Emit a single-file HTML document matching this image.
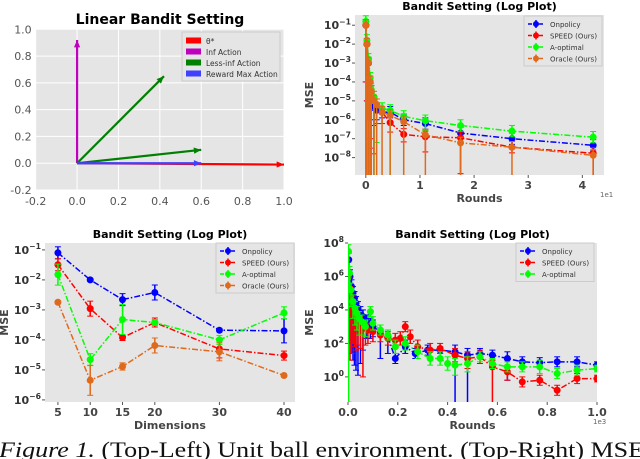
<!DOCTYPE html>
<html><head><meta charset="utf-8">
<style>
html,body{margin:0;padding:0;background:#fff;}
svg{display:block;}
text{font-family:"DejaVu Sans","Liberation Sans",sans-serif;}
text.cap{font-family:"Liberation Serif",serif;}
</style></head>
<body>
<svg id="fig" width="640" height="459" viewBox="0 0 640 459" xmlns="http://www.w3.org/2000/svg"></svg>
<script>
// ===== Data: top-left vectors (linear bandit) =====
const vecNames = ["θ*", "Inf Action", "Less-inf Action", "Reward Max Action"];
const vecColors = ["#ff0000", "#bf00bf", "#008000", "#4040ff"];
const vecX = [1.0, 0.0, 0.42, 0.6];
const vecY = [-0.01, 0.92, 0.65, 0.0];
const vecX2 = [0.6];
const vecY2 = [0.1];

// ===== Data: top-right (rounds, x in 1e1) =====
const trX = [0, 0.02, 0.05, 0.08, 0.1, 0.15, 0.2, 0.3, 0.45, 0.7, 1.1, 1.75, 2.7, 4.2];
const trOn = [-1, -2, -3, -4, -4.5, -5.3, -5.5, -5.6, -5.6, -6, -6.2, -6.7, -7, -7.35];
const trSp = [-1, -2, -3, -4, -4.5, -4.8, -5.2, -5.6, -6.15, -6.77, -6.9, -6.95, -7.45, -7.77];
const trAo = [-0.8, -1.8, -2.8, -3.8, -4.4, -4.8, -5.2, -5.4, -5.5, -5.82, -6.05, -6.3, -6.6, -6.92];
const trOr = [-1, -2, -3, -4, -4.5, -5, -5.2, -5.6, -5.77, -6.1, -6.8, -7.22, -7.45, -7.88];
const trErrOn = [3, 3, 3, 2, 1, 1, 0.5, 0.3, 0.3, 0.3, 0.3, 0.3, 0.3, 0.3];
const trErrSp = [3, 3, 3, 3, 3, 3, 1, 0.6, 0.5, 0.4, 0.8, 1.9, 0.3, 1.2];
const trErrAo = [9, 9, 9, 9, 9, 9, 2, 0.3, 5, 0.3, 0.5, 0.3, 0.3, 0.3];
const trErrOr = [9, 9, 9, 9, 9, 9, 9, 9, 9, 9, 9, 9, 9, 9];
const trTicks = [0, 1, 2, 3, 4];
const trYTicks = [-1, -2, -3, -4, -5, -6, -7, -8];

// ===== Data: bottom-left (dimensions) =====
const blX = [5, 10, 15, 20, 30, 40];
const blOn = [8e-2, 1e-2, 2.2e-3, 3.8e-3, 2.1e-4, 2e-4];
const blSp = [3.2e-2, 1.1e-3, 1.2e-4, 3.8e-4, 5e-5, 3e-5];
const blAo = [1.5e-2, 2.2e-5, 4.8e-4, 3.8e-4, 1e-4, 8e-4];
const blOr = [1.8e-3, 4.5e-6, 1.3e-5, 6.5e-5, 4e-5, 6.5e-6];
const blErrOn = [0.2, 0.05, 0.2, 0.25, 0.05, 0.4];
const blErrSp = [0.2, 0.25, 0.1, 0.15, 0.3, 0.15];
const blErrAo = [0.35, 0.2, 0.5, 0.1, 0.15, 0.2];
const blErrOr = [0.05, 0.5, 0.12, 0.25, 0.3, 0.05];
const blTicks = [5, 10, 15, 20, 30, 40];
const blYTicks = [-1, -2, -3, -4, -5, -6];

// ===== Data: bottom-right (rounds, x in 1e3) =====
const brXOn = [0.003, 0.008, 0.014, 0.02, 0.026, 0.032, 0.04, 0.05, 0.06, 0.075, 0.09, 0.1, 0.13, 0.16, 0.19, 0.23, 0.27, 0.32, 0.37, 0.43, 0.48, 0.53, 0.58, 0.64, 0.7, 0.77, 0.84, 0.92, 1.0];
const brOn = [7, 6, 5.4, 5, 4.7, 4.4, 4.1, 3.8, 3.6, 3.3, 3.1, 3, 2.7, 2.4, 1.1, 1.8, 1.4, 1.6, 1.6, 1.5, 1.3, 1.4, 1.3, 1.1, 0.9, 0.85, 0.9, 0.9, 0.7];
const brErrOn = [4, 4, 4, 4, 4, 4, 4, 3, 2, 1, 0.8, 0.6, 1.6, 1, 0.3, 0.4, 0.3, 0.3, 0.2, 4, 4, 0.3, 0.3, 1.3, 0.3, 0.3, 0.3, 0.3, 0.2];
const brXSp = [0.003, 0.008, 0.014, 0.02, 0.026, 0.032, 0.04, 0.05, 0.06, 0.07, 0.08, 0.1, 0.13, 0.16, 0.19, 0.21, 0.23, 0.25, 0.28, 0.33, 0.37, 0.43, 0.48, 0.53, 0.58, 0.64, 0.7, 0.77, 0.84, 0.92, 1.0];
const brSp = [6, 5, 4.4, 4, 3.8, 3.6, 3.4, 3.2, 3, 2.9, 2.8, 2.7, 2.5, 2.3, 2.2, 2.3, 3, 2.4, 1.8, 1.6, 1.7, 1.3, 1.1, 1.2, 0.6, 0.3, -0.3, -0.2, -0.8, -0.1, -0.1];
const brErrSp = [4, 4, 3, 2, 2, 2, 1.5, 1.5, 3, 1, 0.8, 0.6, 0.4, 0.4, 0.5, 0.4, 0.3, 0.4, 0.4, 0.4, 0.3, 0.4, 0.6, 0.4, 4, 0.5, 0.3, 0.3, 0.3, 0.3, 0.2];
const brXAo = [0.002, 0.006, 0.012, 0.02, 0.028, 0.036, 0.045, 0.055, 0.07, 0.09, 0.1, 0.13, 0.16, 0.19, 0.23, 0.28, 0.33, 0.37, 0.4, 0.43, 0.48, 0.53, 0.58, 0.64, 0.7, 0.77, 0.84, 0.92, 1.0];
const brAo = [7.5, 6.2, 5.2, 4.5, 4.1, 3.8, 3.5, 3.3, 3, 3.9, 3.2, 2.8, 2.5, 1.8, 2, 1.5, 1.1, 1.1, 0.8, 0.7, 0.8, 1.2, 0.8, 0.6, 0.6, 0.6, 0.2, 0.4, 0.5];
const brErrAo = [9, 1, 1, 1, 1, 1, 1, 0.8, 0.6, 0.3, 0.4, 0.3, 0.3, 0.4, 0.4, 0.4, 0.4, 0.4, 0.4, 0.6, 0.5, 0.3, 0.3, 0.3, 0.3, 0.4, 0.3, 0.3, 0.2];
const brTicks = [0, 0.2, 0.4, 0.6, 0.8, 1.0];
const brYTicks = [8, 6, 4, 2, 0];

const C = {on:"#0000ff", sp:"#ff0000", ao:"#00ff00", or:"#e06a1b"};
const svg = document.getElementById("fig");
const NS = "http://www.w3.org/2000/svg";
function el(tag, attrs, parent){const e=document.createElementNS(NS,tag);for(const k in attrs)e.setAttribute(k,attrs[k]);(parent||svg).appendChild(e);return e;}
function txt(s, attrs, parent){const e=el("text",attrs,parent);e.textContent=s;return e;}
function sup(base, exp, x, y, size, g){const t=el("text",{x:x,y:y,"font-size":size,"text-anchor":"end",fill:"#333","font-weight":"bold"},g);const a=document.createElementNS(NS,"tspan");a.textContent=base;t.appendChild(a);const b=document.createElementNS(NS,"tspan");b.setAttribute("dy",-size*0.45);b.setAttribute("font-size",size*0.7);b.textContent=exp;t.appendChild(b);return t;}
function rect(x0,y0,x1,y1,g){return el("rect",{x:x0,y:y0,width:x1-x0,height:y1-y0,fill:"#e5e5e5"},g);}

// ---------- Panel 1: top-left ----------
(function(){
  const g = el("g",{});
  
  
  const L=35.7,R=284,T=29.3,B=190;
  const sx=v=>L+(v+0.2)/1.2*(R-L), sy=v=>B-(v+0.2)/1.2*(B-T);
  rect(L,T,R,B,g);
  [-0.2,0,0.2,0.4,0.6,0.8,1.0].forEach(v=>{
    el("line",{x1:sx(v),x2:sx(v),y1:T,y2:B,stroke:"#fff","stroke-width":1},g);
    el("line",{x1:L,x2:R,y1:sy(v),y2:sy(v),stroke:"#fff","stroke-width":1},g);
    txt(v.toFixed(1),{x:sx(v),y:B+15,"font-size":11,"text-anchor":"middle",fill:"#555"},g);
    txt(v.toFixed(1),{x:L-4,y:sy(v)+4,"font-size":11,"text-anchor":"end",fill:"#555"},g);
  });
  const t=txt("Linear Bandit Setting",{x:160,y:24,"font-size":14,"font-weight":"bold","text-anchor":"middle",fill:"#000"},g);
  
  function arrow(x,y,col,name){
    const x0=sx(0),y0=sy(0),x1=sx(x),y1=sy(y);
    const a=el("line",{x1:x0,y1:y0,x2:x1,y2:y1,stroke:col,"stroke-width":2.2},g);
    
    const ang=Math.atan2(y1-y0,x1-x0),h=8;
    const p=[[x1,y1],[x1-h*Math.cos(ang-0.4),y1-h*Math.sin(ang-0.4)],[x1-h*Math.cos(ang+0.4),y1-h*Math.sin(ang+0.4)]];
    el("polygon",{points:p.map(q=>q.join(",")).join(" "),fill:col},g);
  }
  arrow(vecX[0],vecY[0],vecColors[0],"theta-arrow");
  arrow(vecX[1],vecY[1],vecColors[1],"inf-action-arrow");
  arrow(vecX[2],vecY[2],vecColors[2],"less-inf-arrow");
  arrow(vecX2[0],vecY2[0],vecColors[2],"less-inf-arrow-2");
  arrow(vecX[3],vecY[3],vecColors[3],"reward-max-arrow");
  const lg=el("g",{},g);
  el("rect",{x:182,y:32,width:98,height:49,fill:"#e5e5e5",stroke:"#ccc"},lg);
  vecNames.forEach((n,i)=>{const y=41+i*11;el("rect",{x:186,y:y-3.5,width:15,height:6,fill:vecColors[i]},lg);txt(n,{x:206,y:y+3,"font-size":7.5,fill:"#333"},lg);});
})();

function logPanel(opt){
  const g=el("g",{});
  
  
  const {L,R,T,B}=opt;
  const sx=v=>L+(v-opt.x0)/(opt.x1-opt.x0)*(R-L);
  const sy=v=>B-(v-opt.y0)/(opt.y1-opt.y0)*(B-T);
  rect(L,T,R,B,g);
  opt.xticks.forEach(v=>{el("line",{x1:sx(v),x2:sx(v),y1:B,y2:B+3,stroke:"#555"},g);txt(opt.xfmt(v),{x:sx(v),y:B+14,"font-size":11,"font-weight":"bold","text-anchor":"middle",fill:"#444"},g);});
  opt.yticks.forEach(v=>{el("line",{x1:L-3,x2:L,y1:sy(v),y2:sy(v),stroke:"#555"},g);sup("10",String(v).replace("-","−"),L-4,sy(v)+4,11,g);});
  const tt=txt("Bandit Setting (Log Plot)",{x:(L+R)/2,y:T-5,"font-size":11,"font-weight":"bold","text-anchor":"middle",fill:"#000"},g);
  
  const xl=txt(opt.xlabel,{x:(L+R)/2,y:B+27,"font-size":11,"font-weight":"bold","text-anchor":"middle",fill:"#444"},g);
  
  const yl=txt("MSE",{x:0,y:0,"font-size":11,"font-weight":"bold","text-anchor":"middle",fill:"#444",transform:`translate(${opt.ylx},${(T+B)/2}) rotate(-90)`},g);
  
  if(opt.mult) txt(opt.mult,{x:R-4,y:B+22,"font-size":7,fill:"#666"},g);
  const clip=el("clipPath",{id:opt.name+"-clip"},g);el("rect",{x:L,y:T,width:R-L,height:B-T},clip);
  const pg=el("g",{"clip-path":`url(#${opt.name}-clip)`},g);
  opt.series.forEach(s=>{
    const sg=el("g",{},pg);
    
    
    s.xs.forEach((x,i)=>{const y=s.ys[i],e=s.err[i],eu=Math.min(e,opt.upCap);
      const eb=el("line",{x1:sx(x),x2:sx(x),y1:sy(y+eu),y2:sy(y-e),stroke:s.c,"stroke-width":1.5},sg);
      
      el("line",{x1:sx(x)-3,x2:sx(x)+3,y1:sy(y+eu),y2:sy(y+eu),stroke:s.c,"stroke-width":1},sg);
      el("line",{x1:sx(x)-3,x2:sx(x)+3,y1:sy(y-e),y2:sy(y-e),stroke:s.c,"stroke-width":1},sg);
    });
    const pts=s.xs.map((x,i)=>sx(x)+","+sy(s.ys[i])).join(" ");
    const pl=el("polyline",{points:pts,fill:"none",stroke:s.c,"stroke-width":1.5,"stroke-dasharray":"6,2,1.5,2"},sg);
    
    s.xs.forEach((x,i)=>{const m=el("circle",{cx:sx(x),cy:sy(s.ys[i]),r:3.5,fill:s.c},sg);
      });
  });
  const lg=el("g",{},g);
  const lx=opt.lgx,ly=opt.lgy,n=opt.series.length;
  el("rect",{x:lx,y:ly,width:78,height:n*11.5+4,fill:"#e5e5e5",stroke:"#ccc"},lg);
  opt.series.forEach((s,i)=>{const y=ly+8+i*11.5;
    const le=el("g",{},lg);
    el("line",{x1:lx+4,x2:lx+20,y1:y,y2:y,stroke:s.c,"stroke-width":1.5,"stroke-dasharray":"4,1.5"},le);
    el("circle",{cx:lx+12,cy:y,r:3,fill:s.c},le);
    el("line",{x1:lx+12,x2:lx+12,y1:y-4,y2:y+4,stroke:s.c,"stroke-width":1.5},le);
    txt(s.label,{x:lx+26,y:y+3,"font-size":7,fill:"#333"},le);});
}

logPanel({name:"rounds-log-panel-top",L:355,R:604,T:15,B:175,x0:-0.2,x1:4.4,y0:-8.92,y1:-0.46,upCap:0.3,
  xticks:trTicks,yticks:trYTicks,xfmt:v=>String(v),xlabel:"Rounds",ylx:313,mult:"1e1",lgx:524,lgy:16,
  series:[
    {id:"onpolicy",label:"Onpolicy",c:C.on,xs:trX,ys:trOn,err:trErrOn},
    {id:"speed",label:"SPEED (Ours)",c:C.sp,xs:trX,ys:trSp,err:trErrSp},
    {id:"a-optimal",label:"A-optimal",c:C.ao,xs:trX,ys:trAo,err:trErrAo},
    {id:"oracle",label:"Oracle (Ours)",c:C.or,xs:trX,ys:trOr,err:trErrOr}]});

logPanel({name:"dimensions-log-panel",L:45,R:295,T:243,B:402,x0:3,x1:41.7,y0:-6.07,y1:-0.77,upCap:1,
  xticks:blTicks,yticks:blYTicks,xfmt:v=>String(v),xlabel:"Dimensions",ylx:8,lgx:216,lgy:243,
  series:[
    {id:"onpolicy",label:"Onpolicy",c:C.on,xs:blX,ys:blOn.map(Math.log10),err:blErrOn},
    {id:"speed",label:"SPEED (Ours)",c:C.sp,xs:blX,ys:blSp.map(Math.log10),err:blErrSp},
    {id:"a-optimal",label:"A-optimal",c:C.ao,xs:blX,ys:blAo.map(Math.log10),err:blErrAo},
    {id:"oracle",label:"Oracle (Ours)",c:C.or,xs:blX,ys:blOr.map(Math.log10),err:blErrOr}]});

logPanel({name:"rounds-log-panel-bottom",L:348,R:597,T:243,B:402,x0:0,x1:1.0,y0:-1.5,y1:8,upCap:0.4,
  xticks:brTicks,yticks:brYTicks,xfmt:v=>v.toFixed(1),xlabel:"Rounds",ylx:313,mult:"1e3",lgx:516,lgy:243,
  series:[
    {id:"onpolicy",label:"Onpolicy",c:C.on,xs:brXOn,ys:brOn,err:brErrOn},
    {id:"speed",label:"SPEED (Ours)",c:C.sp,xs:brXSp,ys:brSp,err:brErrSp},
    {id:"a-optimal",label:"A-optimal",c:C.ao,xs:brXAo,ys:brAo,err:brErrAo}]});

const cap=el("text",{x:-1,y:457,"font-size":22,fill:"#111",class:"cap",textLength:645,lengthAdjust:"spacingAndGlyphs"});
const c1=document.createElementNS(NS,"tspan");c1.setAttribute("font-style","italic");c1.textContent="Figure 1.";cap.appendChild(c1);
const c2=document.createElementNS(NS,"tspan");c2.textContent=" (Top-Left) Unit ball environment. (Top-Right) MSE";cap.appendChild(c2);


</script>
</body></html>
